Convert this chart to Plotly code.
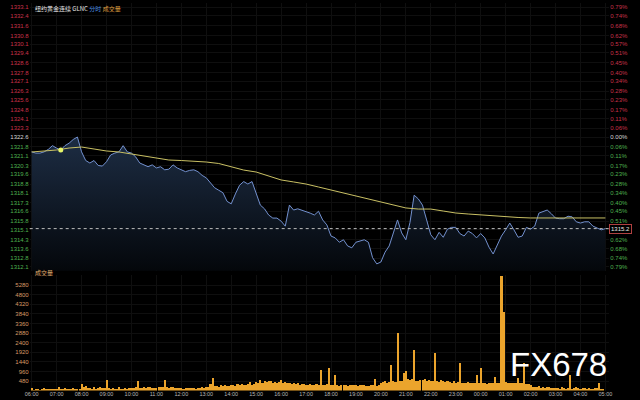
import plotly.graph_objects as go
import pandas as pd

# ---------------- data ----------------
ref_close = 1322.6
# 10-minute price samples 06:00 -> 05:00
price = [
    1321.4, 1321.3, 1321.3, 1321.4, 1321.6, 1321.9, 1321.7, 1321.55, 1321.9, 1322.1,
    1322.4, 1322.6, 1321.4, 1320.7, 1320.5, 1320.7, 1320.3, 1320.25, 1320.6, 1321.15,
    1321.3, 1321.4, 1321.9, 1321.4, 1321.3, 1321.0, 1320.5, 1320.35, 1320.2, 1320.35,
    1320.1, 1320.2, 1319.95, 1320.0, 1320.35, 1320.1, 1319.95, 1319.8, 1319.9, 1319.95,
    1319.8, 1319.5, 1319.3, 1318.9, 1318.5, 1318.3, 1318.1, 1317.4, 1317.2, 1318.0,
    1318.7, 1319.0, 1318.8, 1319.0, 1318.1, 1317.1, 1316.8, 1316.3, 1316.05, 1316.05,
    1315.8, 1315.4, 1317.1, 1316.7, 1316.8, 1316.7, 1316.55, 1316.45, 1316.3, 1316.6,
    1315.9, 1315.5, 1314.6, 1314.45, 1314.1, 1314.3, 1313.8, 1313.65, 1314.1, 1314.2,
    1314.3, 1314.1, 1312.85, 1312.35, 1312.5, 1313.3, 1313.8, 1314.85, 1315.9, 1314.85,
    1314.3, 1315.7, 1317.9, 1317.6, 1317.1, 1315.9, 1314.7, 1314.3, 1314.9, 1314.5,
    1315.15, 1315.3, 1315.3, 1314.8, 1314.6, 1315.0, 1314.8, 1314.45, 1314.8, 1314.45,
    1313.7, 1313.15, 1313.95, 1314.6, 1315.1, 1315.65, 1315.1, 1314.5, 1314.6, 1315.3,
    1315.15, 1315.4, 1316.45, 1316.55, 1316.7, 1316.4, 1316.05, 1316.0, 1316.0, 1316.2,
    1316.15, 1315.75, 1315.65, 1315.75, 1315.75, 1315.4, 1315.25, 1315.1, 1315.2,
]
# 30-minute average-price samples
avg_price = [
    1321.39, 1321.47, 1321.55, 1321.71, 1321.79, 1321.63, 1321.47, 1321.39, 1321.23, 1321.06,
    1320.90, 1320.74, 1320.70, 1320.66, 1320.58, 1320.46, 1320.18, 1319.93, 1319.77, 1319.45,
    1319.13, 1318.97, 1318.80, 1318.56, 1318.32, 1318.08, 1317.83, 1317.59, 1317.35, 1317.11,
    1316.87, 1316.78, 1316.78, 1316.62, 1316.46, 1316.38, 1316.30, 1316.22, 1316.14, 1316.10,
    1316.06, 1316.06, 1316.06, 1316.06, 1316.06, 1316.06, 1316.06,
]
# 5-minute volume, one row per hour 06:00 -> 04:55
volume = [
    150, 30, 40, 60, 30, 40, 120, 50, 40, 90, 60, 40,
    90, 200, 60, 70, 150, 80, 60, 100, 120, 60, 90, 80,
    320, 180, 220, 150, 120, 100, 160, 90, 120, 200, 150, 110,
    520, 120, 100, 140, 90, 100, 160, 80, 90, 130, 100, 120,
    150, 120, 180, 480, 130, 150, 200, 120, 160, 180, 140, 120,
    140, 160, 200, 180, 550, 200, 150, 180, 160, 120, 150, 130,
    120, 100, 150, 130, 110, 140, 120, 100, 150, 130, 160, 140,
    200, 180, 320, 630, 220, 250, 200, 280, 230, 260, 240, 220,
    260, 300, 240, 350, 280, 320, 260, 300, 340, 420, 300, 350,
    450, 400, 520, 380, 480, 420, 500, 460, 380, 440, 400, 420,
    530, 380, 420, 360, 400, 340, 380, 320, 360, 300, 340, 320,
    300, 280, 320, 260, 300, 320, 280, 1030, 300, 260, 320, 1130,
    300, 260, 780, 280, 240, 300, 260, 280, 240, 300, 260, 280,
    260, 240, 280, 260, 300, 240, 220, 260, 280, 580, 240, 300,
    380, 420, 460, 400, 440, 1280, 480, 420, 2880, 460, 500, 880,
    1000, 600, 520, 560, 2030, 500, 480, 540, 520, 560, 480, 520,
    460, 500, 1880, 480, 420, 520, 460, 440, 480, 420, 400, 460,
    380, 420, 1380, 400, 360, 380, 420, 400, 360, 380, 780, 400,
    1130, 360, 400, 340, 380, 380, 360, 680, 380, 360, 5730, 3930,
    420, 380, 360, 360, 400, 380, 630, 360, 380, 1380, 340, 320,
    300, 200, 180, 160, 220, 150, 180, 140, 160, 200, 150, 120,
    120, 140, 100, 160, 120, 100, 120, 780, 100, 140, 160, 120,
    100, 120, 140, 100, 120, 80, 100, 140, 120, 380, 100, 80,
]
price_tick_labels = [
    "1312.1", "1312.8", "1313.6", "1314.3", "1315.1", "1315.8", "1316.6", "1317.3",
    "1318.1", "1318.8", "1319.6", "1320.3", "1321.1", "1321.8", "1322.6", "1323.3",
    "1324.1", "1324.8", "1325.6", "1326.3", "1327.1", "1327.8", "1328.6", "1329.4",
    "1330.1", "1330.8", "1331.6", "1332.4", "1333.1",
]
pct_tick_labels = [
    "0.79%", "0.74%", "0.68%", "0.62%", "0.57%", "0.51%", "0.45%", "0.40%",
    "0.34%", "0.28%", "0.23%", "0.17%", "0.11%", "0.06%", "0.00%", "0.06%",
    "0.11%", "0.17%", "0.23%", "0.28%", "0.34%", "0.40%", "0.45%", "0.51%",
    "0.57%", "0.62%", "0.68%", "0.74%", "0.79%",
]
vol_ticks = [480, 960, 1440, 1920, 2400, 2880, 3360, 3840, 4320, 4800, 5280]
vol_tick_labels = ["480", "960", "1440", "1920", "2400", "2880", "3360", "3840", "4320", "4800", "5280"]
hour_labels = ["06:00", "07:00", "08:00", "09:00", "10:00", "11:00", "12:00", "13:00",
               "14:00", "15:00", "16:00", "17:00", "18:00", "19:00", "20:00", "21:00",
               "22:00", "23:00", "00:00", "01:00", "02:00", "03:00", "04:00", "05:00"]
title_main = "纽约黄金连续 GLNC"
title_mode = "分时"
title_vol = "成交量"
watermark = "FX678"

# ---------------- build ----------------
t0 = pd.Timestamp("2018-02-26 06:00")
t_price = pd.date_range(t0, periods=len(price), freq="10min")
t_avg = pd.date_range(t0, periods=len(avg_price), freq="30min")
t_vol = pd.date_range(t0, periods=len(volume), freq="5min")
t_hours = pd.date_range(t0, periods=len(hour_labels), freq="60min")

W, H = 640, 400
x_left, x_right = 25, 612
px_per_hour = 25.26
xr = [t0 - pd.Timedelta(hours=(27 - x_left) / px_per_hour),
      t_hours[-1] + pd.Timedelta(hours=(x_right - 608) / px_per_hour)]

RED = "#c8324a"
GREEN = "#4fb04f"
NEUTRAL = "#d8d8d8"


def colour_for(v):
    if abs(v - ref_close) < 0.05:
        return NEUTRAL
    return RED if v > ref_close else GREEN


price_tickvals = [float(s) for s in price_tick_labels]
left_text = [f'<span style="color:{colour_for(v)}">{s}</span>' for v, s in zip(price_tickvals, price_tick_labels)]
right_text = [f'<span style="color:{colour_for(v)}">{s}</span>' for v, s in zip(price_tickvals, pct_tick_labels[::-1])]

fig = go.Figure()

fig.add_trace(go.Scatter(
    x=t_price, y=price, mode="lines", line=dict(color="#7391cf", width=1),
    fill="tozeroy",
    fillgradient=dict(type="vertical", start=1311.8, stop=1322.6,
                      colorscale=[[0, "#04070b"], [1, "#1d2d44"]]),
    xaxis="x", yaxis="y", showlegend=False, hoverinfo="skip"))
fig.add_trace(go.Scatter(
    x=t_avg, y=avg_price, mode="lines", line=dict(color="#c9c064", width=1),
    xaxis="x", yaxis="y", showlegend=False, hoverinfo="skip"))
fig.add_trace(go.Scatter(
    x=[t_price[7]], y=[price[7]], mode="markers",
    marker=dict(color="#e6f56a", size=5),
    xaxis="x", yaxis="y", showlegend=False, hoverinfo="skip"))
fig.add_trace(go.Scatter(x=[t_price[0]], y=[price[0]], mode="markers", marker=dict(opacity=0),
                         xaxis="x", yaxis="y3", showlegend=False, hoverinfo="skip"))
fig.add_trace(go.Bar(
    x=t_vol, y=volume, marker=dict(color="#eba42c", line=dict(width=0, color="#eba42c")),
    width=5 * 60 * 1000 * 0.75, xaxis="x2", yaxis="y2", showlegend=False, hoverinfo="skip"))

price_bottom_px, price_top_px = 270.7, 3.3
vol_bottom_px, vol_top_px = 390.6, 275
yr_price = [1311.8, 1333.4]
vol_top_val = (vol_bottom_px - vol_top_px) * 50

axis_font = dict(family="Liberation Sans, Arial", size=6)
xdom = [x_left / W, x_right / W]
GRID = "#0f0f0f"

fig.update_layout(
    width=W, height=H, margin=dict(l=0, r=0, t=0, b=0, pad=0),
    paper_bgcolor="#000000", plot_bgcolor="#000000",
    bargap=0,
    xaxis=dict(domain=xdom, range=xr, anchor="y", showticklabels=False,
               tickvals=t_hours, showgrid=True, gridcolor=GRID, gridwidth=1,
               zeroline=False, showline=False),
    xaxis2=dict(domain=xdom, range=xr, anchor="y2", matches="x",
                tickvals=t_hours, ticktext=hour_labels, ticks="",
                tickfont=dict(family="Liberation Sans, Arial", size=5.5, color="#b8b8b8"),
                showgrid=True, gridcolor=GRID, zeroline=False, showline=False,
                ticklabelstandoff=-1),
    yaxis=dict(domain=[(H - price_bottom_px) / H, (H - price_top_px) / H], range=yr_price,
               anchor="x", side="left", tickvals=price_tickvals, ticktext=left_text,
               ticks="", tickfont=axis_font, showgrid=True, gridcolor=GRID,
               zeroline=False, showline=False),
    yaxis3=dict(overlaying="y", range=yr_price, anchor="x", side="right",
                tickvals=price_tickvals, ticktext=right_text, ticks="",
                tickfont=axis_font, showgrid=False, zeroline=False, showline=False),
    yaxis2=dict(domain=[(H - vol_bottom_px) / H, (H - vol_top_px) / H], range=[0, vol_top_val],
                anchor="x2", side="left", tickvals=vol_ticks, ticktext=vol_tick_labels,
                ticks="", tickfont=dict(family="Liberation Sans, Arial", size=6, color="#d89a66"),
                showgrid=True, gridcolor=GRID, zeroline=False, showline=False),
)

fig.add_shape(type="line", xref="paper", yref="y", x0=x_left / W, x1=x_right / W,
              y0=price[-1], y1=price[-1], line=dict(color="#bdbdbd", width=1, dash="dot"))
fig.add_annotation(xref="paper", yref="y", x=x_right / W, y=price[-1], xanchor="left",
                   text=f"{price[-1]:.1f}", showarrow=False,
                   font=dict(family="Liberation Sans, Arial", size=6, color="#e8e8e8"),
                   bgcolor="#000000", bordercolor="#b04040", borderwidth=1, borderpad=1)

fig.add_annotation(xref="paper", yref="paper", x=28 / W, y=(H - 8) / H, xanchor="left",
                   yanchor="middle", showarrow=False,
                   text=(f'<span style="color:#e6e6e6">{title_main}</span> '
                         f'<span style="color:#4d8fe0">{title_mode}</span> '
                         f'<span style="color:#e0a040">{title_vol}</span>'),
                   font=dict(family="Noto Sans CJK SC", size=6))
fig.add_annotation(xref="paper", yref="paper", x=28 / W, y=(H - 272) / H, xanchor="left",
                   yanchor="middle", showarrow=False, text=title_vol,
                   font=dict(family="Noto Sans CJK SC", size=6, color="#e0b070"))
fig.add_annotation(xref="paper", yref="paper", x=560 / W, y=(H - 364) / H,
                   xanchor="center", yanchor="middle", showarrow=False, text=watermark,
                   font=dict(family="Liberation Sans, Arial", size=33, color="#ffffff"))

fig.write_html("out.html", config={"displayModeBar": False},
               post_script="document.body.style.margin='0';document.body.style.background='#000';")
